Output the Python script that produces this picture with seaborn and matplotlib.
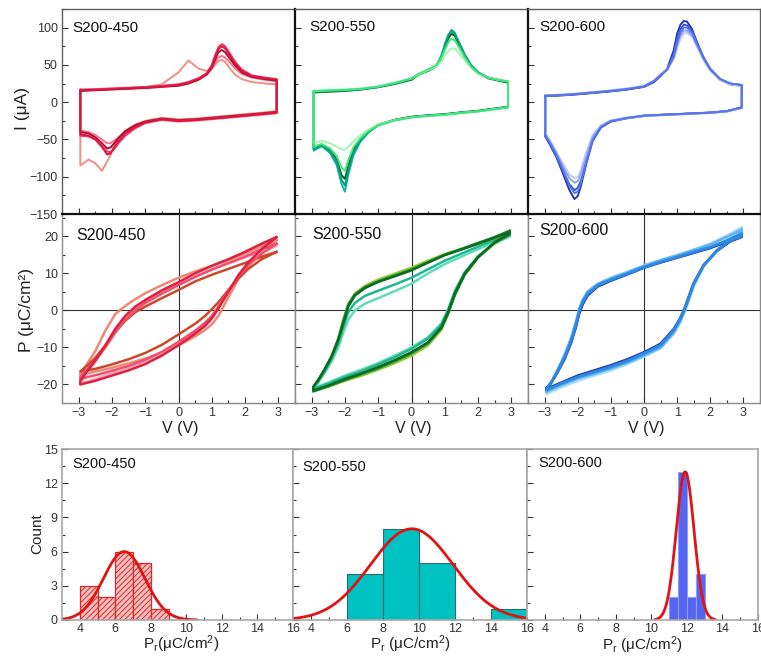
import numpy as np
import matplotlib
matplotlib.use('Agg')
import matplotlib.pyplot as plt
import seaborn as sns
from matplotlib.ticker import MultipleLocator

sns.set_style('ticks')
plt.rcParams['font.family'] = ['Liberation Sans', 'DejaVu Sans']
plt.rcParams['mathtext.fontset'] = 'custom'
plt.rcParams['mathtext.rm'] = 'Liberation Sans'
plt.rcParams['mathtext.it'] = 'Liberation Sans:italic'
plt.rcParams['hatch.linewidth'] = 0.7

# ---------------- data ----------------
samples = ['S200-450', 'S200-550', 'S200-600']

# CV (I vs V) - forward (left->right) and reverse (right->left) branches
cv450_fwd_v = [-2.95, -2.5, -2.0, -1.5, -1.0, -0.5, 0.0, 0.3, 0.6, 0.85, 1.0, 1.1, 1.2, 1.3, 1.4, 1.55, 1.7, 1.9, 2.2, 2.6, 2.95]
cv450_fwd_i = [
    [16, 16.5, 17.5, 18.5, 20, 24, 40, 56, 45, 42, 45, 50, 55, 57, 54, 45, 37, 31, 27, 25, 24],
    [16, 17, 18, 19, 20, 21.5, 23.5, 27, 32, 38, 45, 53, 60, 62, 60, 53, 45, 38, 33, 30, 28],
    [15, 16, 17, 18, 19, 20.5, 22, 25, 30, 37, 46, 57, 67, 70, 67, 58, 49, 40, 34, 31, 29],
    [17, 17.5, 18.5, 19.5, 20.5, 22, 24, 27, 32, 39, 50, 63, 74, 78, 75, 65, 54, 44, 36, 33, 31],
    [16, 16.5, 17.5, 18.5, 19.5, 21, 23, 26, 31, 38, 48, 60, 71, 75, 72, 62, 52, 42, 35, 32, 30],
]
cv450_rev_v = [2.95, 2.5, 2.0, 1.5, 1.0, 0.5, 0.0, -0.5, -1.0, -1.3, -1.6, -1.8, -1.95, -2.05, -2.15, -2.3, -2.5, -2.7, -2.95]
cv450_rev_i = [
    [-12, -14, -16, -18, -20, -22, -23, -21, -25, -30, -38, -48, -60, -72, -80, -92, -82, -77, -85],
    [-15, -17, -19, -21, -23, -25, -26, -24, -28, -34, -41, -47, -52, -55, -55, -50, -44, -40, -38],
    [-13, -15, -17, -19, -21, -23, -24, -22, -26, -31, -39, -48, -56, -61, -62, -55, -47, -42, -40],
    [-14, -16, -18, -20, -22, -24, -25, -23, -28, -35, -45, -55, -64, -67, -66, -58, -50, -46, -45],
    [-14, -16, -18, -20, -22, -24, -25, -23, -27, -33, -42, -52, -62, -69, -70, -60, -50, -45, -43],
]
cv450_colors = ['#f29080', '#ff7090', '#a81030', '#ee3a6a', '#dc143c']

cv550_fwd_v = [-2.94, -2.5, -2.0, -1.5, -1.0, -0.5, 0.0, 0.2, 0.5, 0.75, 0.9, 1.0, 1.1, 1.2, 1.3, 1.45, 1.6, 1.8, 2.0, 2.3, 2.6, 2.9]
cv550_fwd_i = [
    [13, 14, 15, 17, 20, 24.5, 30, 36.5, 42, 48, 60, 72, 85, 92, 89, 75, 62, 48, 39, 32, 29, 26],
    [14, 15, 16, 17.5, 20.5, 25, 31, 37, 43, 49, 63, 78, 90, 95, 92, 78, 63, 49, 40, 33, 30, 27],
    [14, 15, 15.6, 17.4, 20.5, 25, 31, 37, 43, 49, 62, 75, 89, 97, 93, 78, 64, 49, 40, 33, 30, 27],
    [15, 16, 17, 18.5, 21.5, 26, 32, 37, 43, 48, 55, 62, 68, 72, 72, 64, 56, 46, 38, 33, 30, 28],
    [15, 16, 16.5, 18, 21, 26, 32, 38, 44, 50, 60, 70, 80, 85, 83, 72, 60, 47, 39, 33, 30, 28],
]
cv550_rev_v = [2.9, 2.5, 2.0, 1.5, 1.0, 0.5, 0.0, -0.5, -1.0, -1.3, -1.55, -1.75, -1.9, -2.0, -2.1, -2.25, -2.45, -2.7, -2.94]
cv550_rev_i = [
    [-6, -8.5, -11.5, -13.5, -16, -17.5, -19.5, -23.5, -30, -39, -50, -65, -86, -103, -98, -77, -64, -57, -61],
    [-6.5, -9, -12, -14, -16.5, -18, -20, -24, -31, -41, -54, -72, -98, -120, -110, -84, -68, -59, -65],
    [-7, -9, -12, -14, -16.5, -18, -20, -24, -31, -40, -52, -68, -92, -112, -104, -80, -66, -58, -63],
    [-7, -9.5, -12.5, -14.5, -17, -18.5, -20.5, -24, -30, -37, -45, -53, -60, -64, -63, -60, -55, -52, -55],
    [-7, -9.5, -12.5, -14.5, -17, -18.5, -20.5, -24.5, -31, -39, -49, -61, -78, -92, -88, -72, -62, -56, -60],
]
cv550_colors = ['#0b5e1a', '#10b8b0', '#0aa07c', '#a8f4b4', '#3ce878']

cv600_fwd_v = [-2.98, -2.5, -2.0, -1.5, -1.0, -0.5, 0.0, 0.3, 0.5, 0.7, 0.9, 1.0, 1.1, 1.2, 1.3, 1.45, 1.6, 1.8, 2.0, 2.3, 2.6, 2.95]
cv600_fwd_i = [
    [8, 9, 10.5, 12.5, 14.5, 17, 20.5, 27, 35, 45, 70, 92, 104, 109, 108, 98, 80, 58, 43, 30, 24, 22],
    [8.5, 9.5, 11, 13, 15, 17.5, 21, 28, 36, 44, 65, 85, 98, 104, 103, 96, 80, 60, 45, 31, 25, 23],
    [9, 10, 11.5, 13.5, 16, 18.5, 22, 29, 38, 45, 58, 72, 85, 92, 93, 88, 74, 56, 42, 30, 24, 22],
    [9, 10, 11.5, 13.5, 15.5, 18, 21.5, 29, 37, 43, 60, 78, 90, 96, 96, 90, 76, 58, 44, 31, 25, 23],
    [8.5, 9.5, 11, 13, 15, 17.5, 21, 28, 36, 44, 62, 80, 94, 100, 100, 93, 78, 59, 44, 31, 25, 23],
]
cv600_rev_v = [2.95, 2.5, 2.0, 1.5, 1.0, 0.5, 0.0, -0.5, -1.0, -1.3, -1.55, -1.75, -1.9, -2.0, -2.1, -2.25, -2.45, -2.65, -2.85, -2.98]
cv600_rev_i = [
    [-7, -12, -14, -15, -16, -17, -18.5, -21.5, -26, -34, -52, -84, -112, -126, -130, -118, -95, -73, -56, -46],
    [-7, -12, -14, -15, -16, -17, -18, -21, -25, -33, -50, -80, -105, -115, -118, -110, -92, -72, -55, -45],
    [-8, -12.5, -14.5, -15.5, -16.5, -17.5, -18.5, -21, -24.5, -31, -44, -68, -90, -100, -102, -97, -82, -66, -50, -42],
    [-8, -12.5, -14.5, -15.5, -16.5, -17.5, -18.5, -21.5, -25, -32, -47, -74, -96, -106, -108, -102, -86, -68, -52, -43],
    [-7, -12, -14, -15, -16, -17, -18, -21, -25.5, -33.5, -51, -82, -108, -120, -122, -112, -90, -70, -54, -44],
]
cv600_colors = ['#2438b8', '#3a5ad8', '#c4ccf6', '#8ea4f2', '#5674ec']

# P-V loops - descending branch (right->left) and ascending branch (left->right)
pv450_dn_v = [2.95, 2.5, 2.0, 1.5, 1.0, 0.5, 0.0, -0.5, -1.0, -1.3, -1.6, -1.9, -2.2, -2.5, -2.75, -2.95]
pv450_dn_p = [
    [19.0, 17.3, 15.3, 13.6, 12.0, 10.5, 8.8, 6.8, 4.6, 3.0, 1.2, -1.0, -5.5, -11, -14.5, -17],
    [17.5, 16, 14.3, 12.6, 11, 9.2, 7, 5, 2.5, 0.5, -2, -5.5, -9.8, -14, -17, -19.5],
    [15.8, 14.5, 12.8, 11.2, 9.6, 7.8, 5.5, 3.3, 1.0, -0.5, -2.8, -5.8, -9.5, -12.8, -15, -16.5],
    [18, 16.5, 14.5, 12.8, 11, 9, 6.8, 4.5, 2.0, 0.0, -2.5, -6, -10, -13.5, -16, -18],
    [19.8, 18, 15.8, 13.8, 12, 10, 7.6, 5.4, 2.8, 1.0, -1.5, -5, -9.5, -13.5, -16.5, -19],
]
pv450_up_v = [-2.95, -2.5, -2.0, -1.5, -1.0, -0.5, 0.0, 0.5, 0.8, 1.0, 1.2, 1.5, 1.8, 2.1, 2.5, 2.95]
pv450_up_p = [
    [-17.5, -16.5, -15.5, -14.3, -13, -11.5, -9.5, -7, -5.3, -3.8, -1.5, 3.5, 8.5, 12, 15.5, 19],
    [-19.8, -18.5, -17, -15.5, -13.8, -11.8, -9, -6, -3.8, -2, 0.8, 5.2, 9.3, 12.5, 15.5, 17.5],
    [-16.5, -15.8, -14.6, -13.2, -11.5, -9.3, -6.5, -3.6, -1.5, 0.3, 2.2, 5.5, 8.6, 11.2, 13.8, 15.8],
    [-18.5, -17.5, -16.3, -15, -13.3, -11.2, -8.5, -5.5, -3.3, -1.5, 1.0, 5.2, 9.2, 12.3, 15.3, 18],
    [-20, -19, -17.6, -16.2, -14.5, -12.2, -9.4, -6.3, -4.2, -2.2, 0.5, 5, 9.5, 13, 16.5, 19.8],
]
pv450_colors = ['#f08878', '#f6a8bc', '#c84a2a', '#f05070', '#e0203c']

pv550_dn_v = [2.95, 2.5, 2.0, 1.5, 1.0, 0.5, 0.0, -0.5, -1.0, -1.4, -1.7, -1.9, -2.05, -2.2, -2.4, -2.6, -2.8, -2.95]
pv550_dn_p = [
    [20, 18.5, 16.5, 14.5, 12.5, 10, 7.2, 5.2, 3.3, 1.8, 0.0, -2.5, -6, -10, -13.8, -16.8, -19.4, -20.8],
    [20.5, 19, 17.2, 15.3, 13.4, 11.1, 8.8, 7.0, 5.3, 3.9, 2.0, -0.5, -4.5, -8.8, -13, -16.3, -19.2, -20.8],
    [21, 19.5, 18, 16.5, 15.2, 13.4, 11.5, 9.9, 8.3, 6.6, 4.5, 1.8, -2.5, -7.5, -12.3, -15.8, -18.8, -20.8],
    [21.5, 19.8, 18.2, 16.6, 15, 13, 11, 9.4, 7.8, 6.2, 4.3, 1.5, -3, -7.8, -12.4, -15.8, -18.8, -20.8],
    [21.2, 19.6, 18, 16.4, 14.9, 12.9, 10.8, 9.2, 7.7, 6.0, 4.0, 1.0, -3.5, -8, -12.5, -15.8, -18.8, -20.6],
]
pv550_up_v = [-2.95, -2.5, -2.0, -1.5, -1.0, -0.5, 0.0, 0.5, 0.9, 1.1, 1.3, 1.6, 2.0, 2.5, 2.95]
pv550_up_p = [
    [-21.0, -19.5, -17.6, -16, -14.2, -12.2, -10, -7.2, -3.5, 0.3, 5.2, 10.3, 14.5, 18, 20.0],
    [-21.2, -19.8, -18, -16.4, -14.6, -12.6, -10.4, -7.6, -3.8, 0.0, 5.0, 10.2, 14.6, 18.2, 20.3],
    [-21.8, -20.6, -19, -17.6, -16, -14.2, -12.2, -9.4, -5.2, -1.0, 4.0, 9.6, 14.2, 18.2, 20.6],
    [-21.9, -20.5, -18.8, -17.2, -15.6, -13.7, -11.6, -8.8, -4.8, -0.8, 4.2, 9.7, 14.3, 18.4, 21.0],
    [-21.6, -20.3, -18.5, -17, -15.3, -13.4, -11.3, -8.6, -4.5, -0.5, 4.5, 9.9, 14.4, 18.3, 20.6],
]
pv550_colors = ['#60dcb8', '#20b890', '#8cc828', '#209040', '#0b6b20']

pv600_dn_v = [2.95, 2.5, 2.0, 1.5, 1.0, 0.5, 0.0, -0.5, -1.0, -1.4, -1.7, -1.85, -1.95, -2.05, -2.2, -2.4, -2.6, -2.8, -2.95]
pv600_dn_p = [
    [22.4, 20.2, 18.0, 16.4, 15.0, 13.6, 12.2, 10.4, 8.8, 7.2, 5.2, 3.0, 0.6, -2.8, -7.4, -12.0, -15.8, -19.5, -22.4],
    [21.8, 19.8, 17.8, 16.3, 14.8, 13.5, 12.0, 10.3, 8.7, 7.1, 5.0, 2.8, 0.4, -3.0, -7.6, -12.2, -16, -19.4, -21.8],
    [20.2, 18.5, 16.8, 15.5, 14.2, 12.9, 11.5, 9.7, 8.0, 6.4, 4.0, 1.6, -0.8, -4.4, -8.8, -13.2, -16.6, -19.6, -21.0],
    [20.5, 18.7, 17.0, 15.6, 14.3, 13.0, 11.6, 9.8, 8.1, 6.6, 4.3, 2.0, -0.4, -4.0, -8.4, -12.9, -16.4, -19.5, -21.1],
    [20.7, 18.9, 17.1, 15.8, 14.4, 13.1, 11.7, 9.9, 8.3, 6.8, 4.5, 2.3, 0.0, -3.6, -8.1, -12.6, -16.2, -19.4, -21.2],
]
pv600_up_v = [-2.95, -2.5, -2.0, -1.5, -1.0, -0.5, 0.0, 0.5, 0.9, 1.1, 1.25, 1.5, 1.8, 2.2, 2.6, 2.95]
pv600_up_p = [
    [-22.6, -20.8, -19.0, -17.6, -16.2, -14.5, -12.5, -10.3, -6.3, -3.2, 0.0, 6.4, 11.8, 16.3, 19.6, 21.8],
    [-22.0, -20.2, -18.4, -17.1, -15.7, -14.1, -12.2, -10.0, -6.0, -2.8, 0.4, 6.8, 12.0, 16.2, 19.2, 21.0],
    [-21.2, -19.5, -17.6, -16.2, -14.8, -13.2, -11.3, -9.0, -5.0, -2.0, 1.2, 7.4, 12.2, 16.0, 18.6, 19.8],
    [-21.4, -19.7, -17.9, -16.5, -15.1, -13.5, -11.5, -9.3, -5.2, -2.1, 1.0, 7.3, 12.2, 16.1, 18.8, 19.9],
    [-21.6, -19.8, -18, -16.7, -15.3, -13.7, -11.7, -9.5, -5.4, -2.3, 0.9, 7.2, 12.2, 16.2, 18.9, 20.0],
]
pv600_colors = ['#a6dcfa', '#62b4f0', '#1838b0', '#3a74d4', '#2a8ae4']

# Histograms of Pr (bin edges + counts) and Gaussian fits (center, sigma, height)
pr450_edges = [4, 5, 6, 7, 8, 9]
pr450_counts = [3, 2, 6, 5, 1]
pr450_fit = (6.5, 1.17, 6.0)
pr450_fit_range = (3.0, 10.6)

pr550_edges = [6, 8, 10, 12, 14, 16]
pr550_counts = [4, 8, 5, 0, 1]
pr550_fit = (9.6, 2.3, 8.0)
pr550_fit_range = (3.0, 16.0)

pr600_edges = [11.0, 11.5, 12.0, 12.5, 13.0]
pr600_counts = [2, 13, 2, 4]
pr600_fit = (11.9, 0.5, 13.0)
pr600_fit_range = (10.2, 13.6)

# ---------------- figure ----------------
W, H = 761, 657
fig = plt.figure(figsize=(W / 100, H / 100), dpi=100)


def rect(x0, y0, x1, y1):
    return [x0 / W, 1 - y1 / H, (x1 - x0) / W, (y1 - y0) / H]


def style(ax, color, lw):
    for s in ax.spines.values():
        s.set_visible(True)
        s.set_color(color)
        s.set_linewidth(lw)
    ax.tick_params(which='both', direction='in', top=False, right=False,
                   color='#333333', labelcolor='#333333', labelsize=9, width=0.8, pad=3)
    ax.tick_params(which='major', length=4)
    ax.tick_params(which='minor', length=2.2)
    ax.set_xlabel('')
    ax.set_ylabel('')
    ax.grid(False)


def draw_loops(ax, v1, ys1, v2, ys2, colors, lw):
    for a, b, c in zip(ys1, ys2, colors):
        assert len(a) == len(v1) and len(b) == len(v2)
        x = list(v1) + list(v2) + [v1[0]]
        y = list(a) + list(b) + [a[0]]
        sns.lineplot(x=x, y=y, sort=False, estimator=None, color=c, lw=lw, ax=ax)


cv_sets = [
    (cv450_fwd_v, cv450_fwd_i, cv450_rev_v, cv450_rev_i, cv450_colors),
    (cv550_fwd_v, cv550_fwd_i, cv550_rev_v, cv550_rev_i, cv550_colors),
    (cv600_fwd_v, cv600_fwd_i, cv600_rev_v, cv600_rev_i, cv600_colors),
]
pv_sets = [
    (pv450_dn_v, pv450_dn_p, pv450_up_v, pv450_up_p, pv450_colors),
    (pv550_dn_v, pv550_dn_p, pv550_up_v, pv550_up_p, pv550_colors),
    (pv600_dn_v, pv600_dn_p, pv600_up_v, pv600_up_p, pv600_colors),
]
hist_sets = [
    (pr450_edges, pr450_counts, pr450_fit, pr450_fit_range),
    (pr550_edges, pr550_counts, pr550_fit, pr550_fit_range),
    (pr600_edges, pr600_counts, pr600_fit, pr600_fit_range),
]

top_x = [(62, 295), (295, 528), (528, 760)]
bot_x = [(62, 293), (293, 527), (527, 758)]

# middle row (P-V)
pv_label_pos = [(0.06, 0.884), (0.075, 0.894), (0.05, 0.912)]
for k in range(3):
    ax = fig.add_axes(rect(top_x[k][0], 214, top_x[k][1], 403))
    v1, p1, v2, p2, cols = pv_sets[k]
    ax.axhline(0, color='#303030', lw=0.8, zorder=0)
    ax.axvline(0, color='#303030', lw=0.8, zorder=0)
    draw_loops(ax, v1, p1, v2, p2, cols, 1.8)
    ax.set_xlim(-3.5, 3.5)
    ax.set_ylim(-25, 26)
    style(ax, '#8a8a8a', 1.0)
    ax.spines['top'].set_visible(False)
    ax.xaxis.set_major_locator(MultipleLocator(1))
    ax.xaxis.set_minor_locator(MultipleLocator(0.5))
    ax.yaxis.set_major_locator(MultipleLocator(10))
    ax.yaxis.set_minor_locator(MultipleLocator(5))
    if k > 0:
        ax.tick_params(labelleft=False)
    ax.text(pv_label_pos[k][0], pv_label_pos[k][1], samples[k], transform=ax.transAxes,
            fontsize=11.5, va='center', ha='left', color='#111111')

# top row (CV)
cv_label_pos = [(0.043, 0.907), (0.06, 0.912), (0.047, 0.912)]
for k in range(3):
    ax = fig.add_axes(rect(top_x[k][0], 9, top_x[k][1], 214))
    v1, i1, v2, i2, cols = cv_sets[k]
    draw_loops(ax, v1, i1, v2, i2, cols, 1.4)
    ax.set_xlim(-3.5, 3.5)
    ax.set_ylim(-150, 125)
    style(ax, '#606060', 1.0)
    ax.spines['bottom'].set_color('#111111')
    ax.spines['bottom'].set_linewidth(1.6)
    if k > 0:
        ax.spines['left'].set_color('#111111')
        ax.spines['left'].set_linewidth(1.6)
    ax.xaxis.set_major_locator(MultipleLocator(1))
    ax.xaxis.set_minor_locator(MultipleLocator(0.5))
    ax.yaxis.set_major_locator(MultipleLocator(50))
    ax.yaxis.set_minor_locator(MultipleLocator(25))
    ax.tick_params(labelbottom=False)
    if k > 0:
        ax.tick_params(labelleft=False)
    ax.text(cv_label_pos[k][0], cv_label_pos[k][1], samples[k], transform=ax.transAxes,
            fontsize=11, va='center', ha='left', color='#111111')

# bottom row (histograms)
hist_label_pos = [(0.043, 0.912), (0.04, 0.895), (0.05, 0.918)]
hist_styles = [
    dict(color='#f7c0c0', edgecolor='#e02828', hatch='//////', linewidth=0.9),
    dict(color='#00c2c2', edgecolor='#2a6e6e', linewidth=0.8),
    dict(color='#5466f0', edgecolor='#8c9cff', linewidth=0.8),
]
for k in range(3):
    ax = fig.add_axes(rect(bot_x[k][0], 449, bot_x[k][1], 620))
    edges, counts, fit, frange = hist_sets[k]
    centers = [(edges[j] + edges[j + 1]) / 2 for j in range(len(counts))]
    sns.histplot(x=centers, weights=counts, bins=edges, ax=ax, alpha=1, **hist_styles[k])
    m, s, h = fit
    xs = np.linspace(frange[0], frange[1], 300)
    ys = h * np.exp(-(xs - m) ** 2 / (2 * s ** 2))
    sns.lineplot(x=xs, y=ys, color='#e01414', lw=2.0, ax=ax)
    ax.set_xlim(3, 16)
    ax.set_ylim(0, 15)
    style(ax, '#a8a8a8', 1.2)
    ax.tick_params(axis='x', pad=2)
    ax.xaxis.set_major_locator(MultipleLocator(2))
    ax.xaxis.set_minor_locator(MultipleLocator(1))
    ax.yaxis.set_major_locator(MultipleLocator(3))
    ax.yaxis.set_minor_locator(MultipleLocator(1.5))
    if k > 0:
        ax.tick_params(labelleft=False)
    ax.text(hist_label_pos[k][0], hist_label_pos[k][1], samples[k], transform=ax.transAxes,
            fontsize=10.5, va='center', ha='left', color='#111111')

# axis labels
lab_col = '#222222'
fig.text(22 / W, 1 - 108 / H, 'I (μA)', rotation=90, ha='center', va='center', fontsize=12.5, color=lab_col)
fig.text(27 / W, 1 - 310 / H, 'P (μC/cm²)', rotation=90, ha='center', va='center', fontsize=12.5, color=lab_col)
fig.text(37 / W, 1 - 534 / H, 'Count', rotation=90, ha='center', va='center', fontsize=11, color=lab_col)
for xc in (180, 413, 646):
    fig.text(xc / W, 1 - 428 / H, 'V (V)', ha='center', va='center', fontsize=11.5, color=lab_col)
fig.text(181 / W, 1 - 655 / H, r'P$_\mathregular{r}$(μC/cm$^\mathregular{2}$)', ha='center', va='bottom', fontsize=11, color=lab_col)
fig.text(410 / W, 1 - 655 / H, r'P$_\mathregular{r}$ (μC/cm$^\mathregular{2}$)', ha='center', va='bottom', fontsize=11, color=lab_col)
fig.text(642 / W, 1 - 656 / H, r'P$_\mathregular{r}$ (μC/cm$^\mathregular{2}$)', ha='center', va='bottom', fontsize=11, color=lab_col)

fig.savefig('out.png', dpi=100)
